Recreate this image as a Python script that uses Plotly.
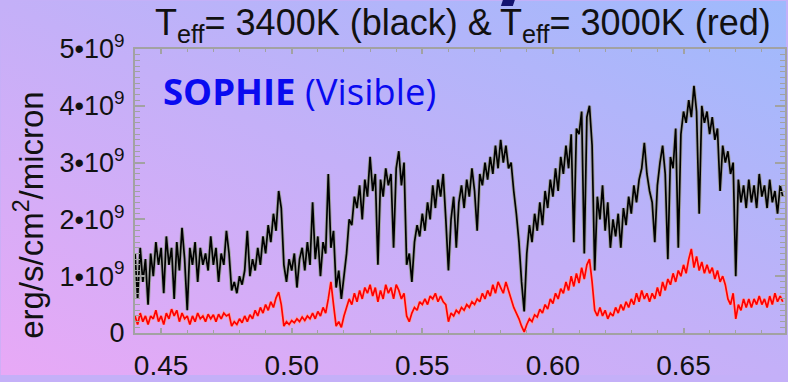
import base64
import numpy as np
import plotly.graph_objects as go

# ---------------- data (flux in units of 1e9 erg/s/cm^2/micron) ----------------
# readings on a 0.001 micron grid starting at 0.440
wl_start = 0.440
wl_step = 0.001

flux_3400K = [
    1.4, 0.6, 1.5, 0.9, 1.3, 0.5, 1.4, 1.0, 1.6, 1.2,
    1.5, 0.7, 1.7, 1.2, 1.5, 0.6, 1.6, 1.1, 1.85, 1.3,
    0.4, 1.5, 1.2, 1.6, 0.9, 1.5, 1.2, 1.4, 1.1, 1.7,
    1.2, 1.5, 0.9, 1.4, 1.2, 1.8, 1.4, 0.75, 0.9, 0.7,
    1.0, 0.85, 1.1, 1.8, 1.0, 1.3, 1.1, 1.5, 1.2, 1.7,
    1.4, 1.9, 1.6, 2.1, 1.8, 2.5, 2.2, 1.2, 0.9, 1.3,
    1.1, 1.4, 0.8, 1.3, 1.5, 1.1, 1.6, 1.2, 2.3, 1.3,
    1.7, 1.0, 1.6, 1.4, 2.8, 1.5, 1.8, 0.8, 1.1, 0.6,
    1.0, 1.4, 2.0, 1.9, 2.4, 2.2, 2.6, 2.0, 2.7, 2.4,
    3.1, 2.5, 2.8, 1.2, 2.7, 2.4, 2.9, 2.6, 2.8, 1.5,
    2.9, 3.2, 2.6, 3.0, 1.2, 1.4, 0.9, 1.6, 1.9, 1.7,
    2.1, 1.8, 2.3, 2.0, 2.6, 2.2, 2.7, 2.4, 2.8, 2.0,
    1.1, 2.0, 2.4, 1.5, 2.3, 2.6, 2.2, 2.7, 2.4, 2.9,
    2.5, 1.8, 2.8, 2.6, 3.0, 2.7, 3.1, 2.8, 3.3, 2.9,
    3.4, 3.0, 3.3, 2.9, 3.0, 2.5, 2.1, 1.6, 0.9, 0.38,
    1.4, 1.9, 1.6, 2.1, 1.8, 2.3, 1.9, 2.5, 2.2, 2.7,
    2.4, 2.9, 2.5, 3.1, 2.8, 3.3, 2.9, 3.5, 1.6, 3.6,
    3.5, 3.9, 1.4, 3.8, 4.0, 3.3, 1.1, 2.4, 2.0, 2.6,
    1.8, 2.3, 1.5, 2.0, 1.7, 2.1, 1.5, 2.2, 1.9, 2.4,
    2.1, 2.6, 2.3, 2.7, 2.9, 3.35, 2.8, 2.5, 2.3, 1.6,
    2.6, 3.0, 3.3, 2.8, 1.3, 3.1, 2.9, 3.6, 1.5, 3.5,
    3.9, 3.7, 4.1, 3.8, 4.35, 3.9, 2.1, 4.0, 3.7, 3.9,
    3.5, 3.8, 3.4, 3.6, 2.5, 3.3, 3.0, 3.2, 2.8, 3.0,
    1.0, 2.7, 2.3, 2.6, 2.2, 2.7, 2.3, 2.6, 2.2, 2.8,
    2.4, 2.6, 2.2, 2.7, 2.3, 2.5, 2.1, 2.6, 2.4,
]

flux_3000K = [
    0.3, 0.15, 0.35, 0.2, 0.3, 0.15, 0.3, 0.25, 0.4, 0.2,
    0.3, 0.15, 0.35, 0.25, 0.42, 0.3, 0.4, 0.2, 0.35, 0.25,
    0.3, 0.15, 0.3, 0.2, 0.35, 0.25, 0.3, 0.2, 0.33, 0.25,
    0.32, 0.2, 0.33, 0.25, 0.35, 0.3, 0.33, 0.12, 0.2, 0.15,
    0.25, 0.18, 0.3, 0.2, 0.32, 0.25, 0.4, 0.3, 0.45, 0.35,
    0.5, 0.4, 0.55, 0.45, 0.62, 0.72, 0.5, 0.12, 0.2, 0.15,
    0.22, 0.18, 0.25, 0.2, 0.28, 0.22, 0.3, 0.25, 0.35, 0.25,
    0.38, 0.3, 0.45, 0.35, 0.6, 0.9, 0.5, 0.12, 0.2, 0.1,
    0.3, 0.45, 0.6, 0.5, 0.7, 0.55, 0.75, 0.6, 0.8, 0.7,
    0.85, 0.65, 0.8, 0.55, 0.75, 0.6, 0.85, 0.7, 0.8, 0.6,
    0.85, 0.75, 0.6, 0.7, 0.3, 0.2, 0.35, 0.45, 0.4, 0.55,
    0.5, 0.6, 0.5, 0.65, 0.6, 0.7, 0.55, 0.65, 0.55, 0.5,
    0.2, 0.35, 0.3, 0.4, 0.35, 0.45, 0.4, 0.5, 0.45, 0.55,
    0.5, 0.6, 0.55, 0.7, 0.6, 0.75, 0.65, 0.85, 0.7, 0.9,
    0.8, 0.7, 0.9, 0.75, 0.6, 0.45, 0.35, 0.25, 0.12, 0.02,
    0.15, 0.25, 0.2, 0.32, 0.28, 0.42, 0.35, 0.5, 0.42, 0.6,
    0.52, 0.7, 0.6, 0.78, 0.7, 0.9, 0.75, 1.0, 0.82, 1.05,
    0.88, 1.15, 0.95, 1.2, 1.3, 0.9, 0.4, 0.3, 0.45, 0.3,
    0.4, 0.25, 0.35, 0.3, 0.45, 0.35, 0.5, 0.4, 0.55, 0.45,
    0.6, 0.5, 0.7, 0.55, 0.75, 0.6, 0.7, 0.55, 0.7, 0.6,
    0.8, 0.65, 0.9, 0.75, 0.95, 0.85, 1.05, 0.9, 1.1, 1.0,
    1.2, 1.05, 1.3, 1.48, 1.15, 1.35, 1.1, 1.25, 1.05, 1.2,
    1.05, 1.15, 0.95, 1.1, 0.9, 1.0, 0.85, 0.6, 0.5, 0.7,
    0.25, 0.5, 0.4, 0.6, 0.45, 0.6, 0.45, 0.6, 0.5, 0.65,
    0.5, 0.6, 0.45, 0.65, 0.5, 0.7, 0.55, 0.65, 0.55,
]

x_tickvals = [0.45, 0.50, 0.55, 0.60, 0.65]
x_ticktext = ["0.45", "0.50", "0.55", "0.60", "0.65"]
y_tickvals = [0, 1e9, 2e9, 3e9, 4e9, 5e9]
y_ticktext = ["0", "1\u202210<sup>9</sup>", "2\u202210<sup>9</sup>", "3\u202210<sup>9</sup>",
              "4\u202210<sup>9</sup>", "5\u202210<sup>9</sup>"]

title_part1 = "T<sub>eff</sub>= 3400K (black) &"
title_part2 = "T<sub>eff</sub>= 3000K (red)"
y_title = "erg/s/cm<sup>2</sup>/micron"
label_text = "<b>SOPHIE</b> (Visible)"

# ---------------- build ----------------
wl = np.round(wl_start + wl_step * np.arange(len(flux_3400K)), 4)
f_black = np.array(flux_3400K) * 1e9
f_red = np.array(flux_3000K) * 1e9

W, H = 788, 382
ML, MR, MT, MB = 135, 1, 49, 43
PW, PH = W - ML - MR, H - MT - MB


def px(xp):
    return (xp - ML) / PW


def py(yp):
    return (MT + PH - yp) / PH


fig = go.Figure()
fig.add_trace(go.Scatter(x=wl, y=f_black, mode="lines",
                         line=dict(color="#a4a4a4", width=3.6, simplify=False),
                         hoverinfo="skip", showlegend=False))
fig.add_trace(go.Scatter(x=wl, y=f_black, mode="lines",
                         line=dict(color="#000000", width=1.7, simplify=False), showlegend=False))
fig.add_trace(go.Scatter(x=wl, y=f_red, mode="lines",
                         line=dict(color="#f6a6b2", width=3.6, simplify=False),
                         hoverinfo="skip", showlegend=False))
fig.add_trace(go.Scatter(x=wl, y=f_red, mode="lines",
                         line=dict(color="#ff0000", width=1.7, simplify=False), showlegend=False))

svg = ('<svg xmlns="http://www.w3.org/2000/svg" width="788" height="382">'
       '<defs><linearGradient id="g" x1="0" y1="1" x2="1" y2="0">'
       '<stop offset="0" stop-color="#e8a9f6"/>'
       '<stop offset="0.5" stop-color="#c4b0f8"/>'
       '<stop offset="1" stop-color="#9ebafc"/>'
       '</linearGradient></defs>'
       '<rect width="788" height="382" fill="url(#g)"/></svg>')
bg_src = "data:image/svg+xml;base64," + base64.b64encode(svg.encode()).decode()

axis_col = "#a2a2a2"
title_font = dict(size=36, color="#111111", family="Liberation Sans, Arial, sans-serif")
fig.update_layout(
    width=W, height=H,
    margin=dict(l=ML, r=MR, t=MT, b=MB, pad=0),
    paper_bgcolor="#c4b0f8",
    plot_bgcolor="rgba(0,0,0,0)",
    font=dict(family="Liberation Sans, Arial, sans-serif", color="#111111"),
    images=[dict(source=bg_src, xref="paper", yref="paper",
                 x=-ML / PW, y=1 + MT / PH, sizex=W / PW, sizey=H / PH,
                 xanchor="left", yanchor="top", sizing="stretch", layer="below")],
    xaxis=dict(range=[0.44, 0.44 + PW / 2620.0], tickvals=x_tickvals, ticktext=x_ticktext,
               ticks="inside", ticklen=5, tickwidth=1.5, tickcolor=axis_col,
               showline=True, linecolor=axis_col, linewidth=2, mirror="allticks",
               showgrid=False, zeroline=False, ticklabelstandoff=6,
               tickfont=dict(size=28, color="#111111"),
               minor=dict(tickmode="linear", tick0=0.44, dtick=0.01, ticks="inside",
                          ticklen=3, tickcolor=axis_col, tickwidth=1.2, showgrid=False)),
    yaxis=dict(range=[0, 5e9], tickvals=y_tickvals, ticktext=y_ticktext,
               ticks="inside", ticklen=10, tickwidth=1.5, tickcolor=axis_col,
               showline=True, linecolor=axis_col, linewidth=2, mirror="allticks",
               showgrid=False, zeroline=False, ticklabelstandoff=3,
               tickfont=dict(size=27, color="#111111"),
               minor=dict(tickmode="linear", tick0=0, dtick=1e8, ticks="inside",
                          ticklen=5, tickcolor=axis_col, tickwidth=1.2, showgrid=False)),
    annotations=[
        dict(text=title_part1, xref="paper", yref="paper", x=px(153), y=py(25),
             xanchor="left", yanchor="middle", showarrow=False, font=title_font),
        dict(text=title_part2, xref="paper", yref="paper", x=px(499), y=py(25),
             xanchor="left", yanchor="middle", showarrow=False, font=title_font),
        dict(text=y_title, xref="paper", yref="paper", x=px(28), y=py(218),
             xanchor="center", yanchor="middle", textangle=-90, showarrow=False,
             font=dict(size=33, color="#111111", family="Liberation Sans, Arial, sans-serif")),
        dict(text=label_text, xref="paper", yref="paper", x=px(161), y=py(92),
             xanchor="left", yanchor="middle", showarrow=False,
             font=dict(size=36.5, color="#0a0af0", family="Open Sans, Noto Sans, sans-serif")),
    ],
    shapes=[dict(type="path", xref="paper", yref="paper", layer="above",
                 path="M {:.4f},{:.4f} L {:.4f},{:.4f} L {:.4f},{:.4f} L {:.4f},{:.4f} Z".format(
                     px(502), py(5), px(514), py(5), px(516), py(-1), px(504), py(-1)),
                 fillcolor="#141470", line=dict(width=0))],
)

fig.write_html("out.html")
